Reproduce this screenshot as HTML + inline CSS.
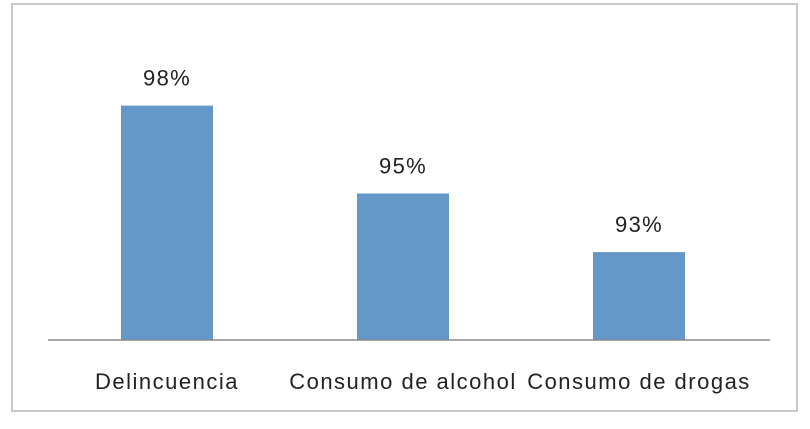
<!DOCTYPE html>
<html><head><meta charset="utf-8"><style>
body{margin:0;background:#fff;width:810px;height:424px;overflow:hidden}
svg text{font-family:"Liberation Sans",sans-serif;fill:#222}
</style></head><body>
<svg width="810" height="424">
<rect x="12" y="4" width="785" height="407" fill="#fff" stroke="#c8c8c8" stroke-width="2"/>
<g id="bars"></g>
<line x1="48" y1="340" x2="770" y2="340" stroke="#8a8a8a" stroke-width="1.5"/>
</svg>
<script>
const categories=["Delincuencia","Consumo de alcohol","Consumo de drogas"];
const values=[98,95,93];
const valueLabels=["98%","95%","93%"];
const yMin=90, base=340, pxPer=29.3;
const y=v=>base-(v-yMin)*pxPer;
const x=i=>167+i*236;
const g=document.getElementById('bars');
const ns="http://www.w3.org/2000/svg";
values.forEach((v,i)=>{
 const r=document.createElementNS(ns,'rect');
 r.setAttribute('x',x(i)-46);r.setAttribute('width',92);
 r.setAttribute('y',y(v));r.setAttribute('height',base-y(v));
 r.setAttribute('fill','#6398c9');
 
 
 g.appendChild(r);
 const t=document.createElementNS(ns,'text');
 t.setAttribute('x',x(i));t.setAttribute('y',y(v)-20);
 t.setAttribute('text-anchor','middle');t.setAttribute('font-size','22');
 t.setAttribute('letter-spacing','1.3');
 t.textContent=valueLabels[i];
 
 
 g.appendChild(t);
 const c=document.createElementNS(ns,'text');
 c.setAttribute('x',x(i));c.setAttribute('y',389);
 c.setAttribute('text-anchor','middle');c.setAttribute('font-size','22');
 c.setAttribute('letter-spacing','1.5');
 c.textContent=categories[i];
 
 
 g.appendChild(c);
});
</script>
</body></html>
